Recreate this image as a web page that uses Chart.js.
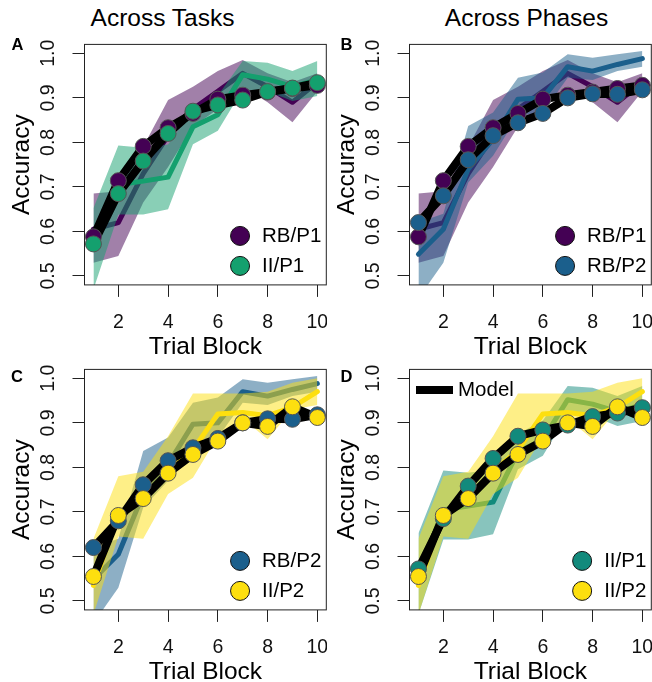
<!DOCTYPE html>
<html>
<head>
<meta charset="utf-8">
<script src="https://cdn.jsdelivr.net/npm/chart.js@4.4.1/dist/chart.umd.min.js"></script>
<style>
  body { margin: 0; width: 652px; height: 682px; overflow: hidden; background: #fff; position: relative;
         font-family: "Liberation Sans", Arial, sans-serif; }
  canvas { position: absolute; }
  .txt { position: absolute; line-height: 1; white-space: nowrap; color: #000; }
  .head { font-size: 24.5px; transform: translateX(-50%); }
  .tag { font-size: 16.5px; font-weight: bold; }
</style>
</head>
<body>
<div class="txt head" style="left:162.5px; top:6px">Across Tasks</div>
<div class="txt head" style="left:526.5px; top:6px">Across Phases</div>

<canvas id="panelA" width="327" height="362" style="left:0; top:0"></canvas>
<canvas id="panelB" width="327" height="362" style="left:325px; top:0"></canvas>
<canvas id="panelC" width="327" height="362" style="left:0; top:325px"></canvas>
<canvas id="panelD" width="327" height="362" style="left:325px; top:325px"></canvas>

<div class="txt tag" style="left:11.5px; top:36px">A</div>
<div class="txt tag" style="left:340.5px; top:36px">B</div>
<div class="txt tag" style="left:11px; top:368px">C</div>
<div class="txt tag" style="left:340.5px; top:368px">D</div>

<script>
const blocks = [1, 2, 3, 4, 5, 6, 7, 8, 9, 10];
const xTicks = [2, 4, 6, 8, 10];
const xTickLabels = ['2', '4', '6', '8', '10'];
const yTicks = [0.5, 0.6, 0.7, 0.8, 0.9, 1.0];
const yTickLabels = ['0.5', '0.6', '0.7', '0.8', '0.9', '1.0'];

// human data: mean accuracy and band limits
const rbP1Mean = [0.605, 0.62, 0.73, 0.815, 0.875, 0.915, 0.955, 0.925, 0.89, 0.935];
const rbP1Low  = [0.53, 0.545, 0.665, 0.745, 0.835, 0.875, 0.925, 0.89, 0.845, 0.915];
const rbP1High = [0.685, 0.69, 0.79, 0.895, 0.925, 0.96, 0.985, 0.955, 0.935, 0.955];

const iiP1Mean = [0.56, 0.705, 0.713, 0.722, 0.835, 0.862, 0.952, 0.942, 0.925, 0.94];
const iiP1Low  = [0.47, 0.638, 0.638, 0.65, 0.796, 0.826, 0.919, 0.915, 0.893, 0.904];
const iiP1High = [0.652, 0.793, 0.788, 0.795, 0.875, 0.905, 0.983, 0.979, 0.96, 0.983];

const rbP2Mean = [0.549, 0.605, 0.74, 0.807, 0.897, 0.9, 0.97, 0.96, 0.975, 0.988];
const rbP2Low  = [0.45, 0.53, 0.71, 0.77, 0.86, 0.867, 0.945, 0.94, 0.96, 0.97];
const rbP2High = [0.62, 0.64, 0.837, 0.867, 0.945, 0.957, 0.998, 0.99, 0.998, 1.005];

const iiP2Mean = [0.535, 0.696, 0.727, 0.79, 0.839, 0.92, 0.923, 0.916, 0.935, 0.97];
const iiP2Low  = [0.47, 0.645, 0.64, 0.74, 0.777, 0.87, 0.91, 0.863, 0.93, 0.94];
const iiP2High = [0.64, 0.78, 0.79, 0.87, 0.966, 0.966, 0.966, 0.97, 0.99, 1.0];

// model predictions
const rbP1Model = [0.588, 0.714, 0.791, 0.833, 0.865, 0.897, 0.906, 0.913, 0.921, 0.928];
const iiP1Model = [0.572, 0.685, 0.758, 0.820, 0.870, 0.884, 0.895, 0.914, 0.922, 0.934];
const rbP2Model = [0.620, 0.680, 0.761, 0.815, 0.844, 0.865, 0.900, 0.909, 0.908, 0.918];
const iiP2Model = [0.555, 0.692, 0.730, 0.787, 0.829, 0.859, 0.900, 0.892, 0.936, 0.912];

const conds = {
  'RB/P1': { mean: rbP1Mean, low: rbP1Low, high: rbP1High, model: rbP1Model },
  'II/P1': { mean: iiP1Mean, low: iiP1Low, high: iiP1High, model: iiP1Model },
  'RB/P2': { mean: rbP2Mean, low: rbP2Low, high: rbP2High, model: rbP2Model },
  'II/P2': { mean: iiP2Mean, low: iiP2Low, high: iiP2High, model: iiP2Model }
};

const FONT = '"Liberation Sans", Arial, sans-serif';
Chart.defaults.font.family = FONT;
Chart.defaults.color = '#000';

// plot box in canvas pixels
const AREA = { left: 84.5, top: 44.4, right: 326.3, bottom: 284.9 };
const H = 362, W = 327;

function pts(arr) {
  return blocks.map((b, i) => ({ x: b, y: arr[i] }));
}

function fade(hex, a) {
  const n = parseInt(hex.slice(1), 16);
  return `rgba(${n >> 16}, ${(n >> 8) & 255}, ${n & 255}, ${a})`;
}

const framePlugin = {
  id: 'frame',
  afterDatasetsDraw(chart) {
    const { ctx, chartArea: a } = chart;
    ctx.save();
    ctx.strokeStyle = '#222';
    ctx.lineWidth = 1;
    ctx.strokeRect(a.left, a.top, a.right - a.left, a.bottom - a.top);
    ctx.restore();
  }
};

const keyPlugin = {
  id: 'key',
  afterDraw(chart, args, opts) {
    const { ctx, chartArea: a } = chart;
    ctx.save();
    ctx.font = '20.5px ' + FONT;
    ctx.textBaseline = 'middle';
    const w = Math.max(...opts.items.map(it => ctx.measureText(it.label).width));
    const tx = a.right - 5 - w;
    opts.items.forEach((it, i) => {
      const y = a.bottom - 49 + i * 30;
      ctx.beginPath();
      ctx.arc(tx - 22, y, 9.5, 0, Math.PI * 2);
      ctx.fillStyle = it.color;
      ctx.fill();
      ctx.strokeStyle = '#111';
      ctx.lineWidth = 1;
      ctx.stroke();
      ctx.fillStyle = '#000';
      ctx.fillText(it.label, tx, y);
    });
    if (opts.model) {
      const y = a.top + 20.6;
      ctx.beginPath();
      ctx.moveTo(a.left + 6.5, y);
      ctx.lineTo(a.left + 43.5, y);
      ctx.strokeStyle = '#000';
      ctx.lineWidth = 8;
      ctx.stroke();
      ctx.fillStyle = '#000';
      ctx.fillText('Model', a.left + 48.5, y);
    }
    ctx.restore();
  }
};

function makePanel(id, items, showModel) {
  const ds = [];
  items.forEach(([name, color]) => {
    const c = conds[name];
    ds.push({ data: pts(c.low), borderColor: 'rgba(0,0,0,0)', borderWidth: 0, pointRadius: 0, fill: false });
    ds.push({ data: pts(c.high), borderColor: 'rgba(0,0,0,0)', borderWidth: 0, pointRadius: 0,
              fill: '-1', backgroundColor: fade(color, 0.5) });
    ds.push({ data: pts(c.mean), borderColor: color, borderWidth: 5, pointRadius: 0, fill: false });
  });
  items.forEach(([name]) => {
    ds.push({ data: pts(conds[name].model), borderColor: '#000', borderWidth: 8, pointRadius: 0, fill: false });
  });
  items.forEach(([name, color]) => {
    ds.push({ data: pts(conds[name].model), showLine: false, pointRadius: 8,
              pointBackgroundColor: color, pointBorderColor: '#555', pointBorderWidth: 1 });
  });
  ds.forEach((d, i) => { d.order = -i; });

  const tickFont = { size: 19.5, family: FONT };
  new Chart(document.getElementById(id), {
    type: 'line',
    data: { datasets: ds },
    options: {
      responsive: false,
      animation: false,
      events: [],
      layout: { autoPadding: false, padding: { left: 0, top: AREA.top, right: W - AREA.right, bottom: 0 } },
      elements: { line: { tension: 0, borderJoinStyle: 'round', borderCapStyle: 'round' } },
      plugins: {
        legend: { display: false },
        tooltip: { enabled: false },
        key: { items: items.map(([name, color]) => ({ label: name, color })), model: showModel }
      },
      scales: {
        x: {
          type: 'linear', min: 0.64, max: 10.36,
          afterBuildTicks: s => { s.ticks = xTicks.map(v => ({ value: v })); },
          afterFit: s => { s.height = H - AREA.bottom; s.paddingLeft = 0; s.paddingRight = 0; },
          grid: { display: true, drawOnChartArea: false, tickLength: 12, tickColor: '#222' },
          border: { display: false },
          ticks: { minRotation: 0, maxRotation: 0, padding: 14, font: tickFont, color: '#111',
                   callback: v => xTickLabels[xTicks.indexOf(v)] },
          title: { display: true, text: 'Trial Block', font: { size: 24.5 }, color: '#000',
                   padding: { top: 0, bottom: 0 } }
        },
        y: {
          type: 'linear', min: 0.48, max: 1.02,
          afterBuildTicks: s => { s.ticks = yTicks.map(v => ({ value: v })); },
          afterFit: s => { s.width = AREA.left; s.paddingTop = 0; s.paddingBottom = 0; },
          grid: { display: true, drawOnChartArea: false, tickLength: 12, tickColor: '#222' },
          border: { display: false },
          ticks: { minRotation: 90, maxRotation: 90, crossAlign: 'center', padding: 10, font: tickFont,
                   color: '#111', callback: v => yTickLabels[yTicks.indexOf(v)] },
          title: { display: true, text: 'Accuracy', font: { size: 24.5 }, color: '#000',
                   padding: { top: 8, bottom: 0 } }
        }
      }
    },
    plugins: [framePlugin, keyPlugin]
  });
}

makePanel('panelA', [['RB/P1', '#440154'], ['II/P1', '#14A06E']], false);
makePanel('panelB', [['RB/P1', '#440154'], ['RB/P2', '#1B5F8C']], false);
makePanel('panelC', [['RB/P2', '#1B5F8C'], ['II/P2', '#FDDF0F']], false);
makePanel('panelD', [['II/P1', '#128A7C'], ['II/P2', '#FDDF0F']], true);
</script>
</body>
</html>
